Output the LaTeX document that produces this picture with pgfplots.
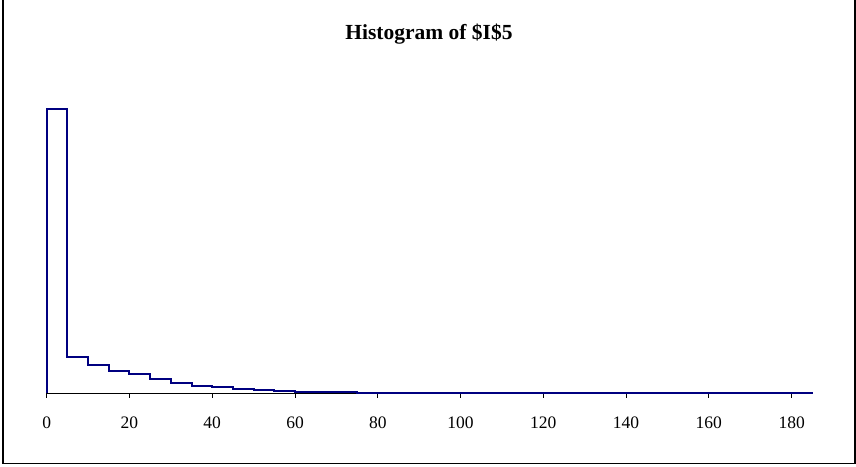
\documentclass[border=0pt]{standalone}
\usepackage{fontspec}
\setmainfont{Liberation Serif}
\usepackage{pgfplots}
\pgfplotsset{compat=1.18}
\definecolor{navyline}{RGB}{0,0,128}
\begin{document}
\begin{tikzpicture}[x=1bp,y=1bp]
\useasboundingbox (0,0) rectangle (856,467);
\draw[line width=1.2bp, black] (3,467) -- (3,3.5) -- (855,3.5) -- (855,467);
\node[font=\fontsize{21.5bp}{24bp}\selectfont\bfseries] at (429,433) {Histogram of \$I\$5};
\begin{axis}[
  at={(46.7bp,73.5bp)}, anchor=south west,
  scale only axis, width=765.6bp, height=300bp,
  xmin=0, xmax=185, ymin=0, ymax=300,
  axis x line=bottom, axis y line=none,
  x axis line style={-, black, line width=0.8bp},
  xtick={0,20,...,180}, tick align=outside, major tick length=4.4bp,
  tick style={black, line width=0.8bp},
  xticklabel style={font=\fontsize{17.5bp}{20bp}\selectfont, anchor=center, yshift=-25bp},
  /pgf/number format/assume math mode=true,
  clip=false,
]
\addplot[const plot, navyline, line width=2bp, line join=miter, mark=none] coordinates {
(0,0) (0,284.8) (5,36.8) (10,28.5) (15,22.5) (20,19.8) (25,14.8) (30,10.2) (35,7.5)
(40,6.2) (45,4.5) (50,3.5) (55,2.2) (60,1.5) (65,1.2) (70,1.0) (75,0.8) (80,0.6)
(85,0.5) (90,0.4) (95,0.3) (100,0.3) (105,0.25) (110,0.2) (115,0.2) (120,0.15)
(125,0.15) (130,0.1) (135,0.1) (140,0.1) (145,0.1) (150,0.1) (155,0.1) (160,0.1)
(165,0.1) (170,0.1) (175,0.1) (180,0.1) (185,0)
};
\end{axis}
\end{tikzpicture}
\end{document}
